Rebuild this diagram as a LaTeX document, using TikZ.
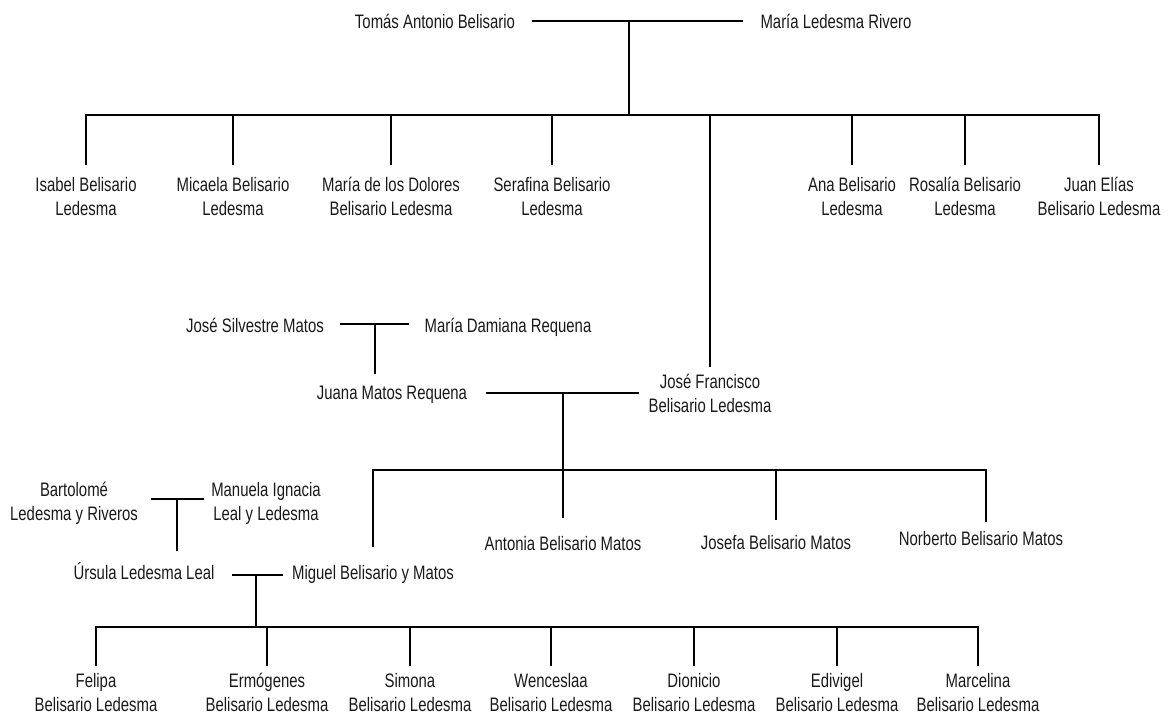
\documentclass[tikz,border=0pt]{standalone}
\usepackage{fontspec}
\newfontfamily\narrow[FakeStretch=0.765]{Liberation Sans}
\begin{document}
\begin{tikzpicture}[x=1pt,y=-1pt,line width=1.5pt,
  person/.style={font=\narrow\fontsize{19.5}{24}\selectfont, align=center, inner sep=0pt, anchor=base, text=black!90}]
\useasboundingbox (0,0) rectangle (1168,715);
% ---------- nodes (y = baseline of the last line) ----------
\node[person] (tomas)   at (435,28) {Tomás Antonio Belisario};
\node[person] (mariaLR) at (836,28) {María Ledesma Rivero};
\node[person] (isabel)   at (86,215)  {Isabel Belisario\\Ledesma};
\node[person] (micaela)  at (233,215) {Micaela Belisario\\Ledesma};
\node[person] (dolores)  at (391,215) {María de los Dolores\\Belisario Ledesma};
\node[person] (serafina) at (552,215) {Serafina Belisario\\Ledesma};
\node[person] (ana)      at (852,215) {Ana Belisario\\Ledesma};
\node[person] (rosalia)  at (965,215) {Rosalía Belisario\\Ledesma};
\node[person] (juanelias) at (1099,215) {Juan Elías\\Belisario Ledesma};
\node[person] (josefco)  at (710,412) {José Francisco\\Belisario Ledesma};
\node[person] (silvestre) at (255,332) {José Silvestre Matos};
\node[person] (damiana)   at (508,332) {María Damiana Requena};
\node[person] (juana)     at (392,399) {Juana Matos Requena};
\node[person] (bartolome) at (74,520)  {Bartolomé\\Ledesma y Riveros};
\node[person] (manuela)   at (266,520) {Manuela Ignacia\\Leal y Ledesma};
\node[person] (antonia)   at (563,550) {Antonia Belisario Matos};
\node[person] (josefa)    at (776,549) {Josefa Belisario Matos};
\node[person] (norberto)  at (981,545) {Norberto Belisario Matos};
\node[person] (ursula)    at (144,579) {Úrsula Ledesma Leal};
\node[person] (miguel)    at (373,579) {Miguel Belisario y Matos};
\node[person] (felipa)    at (96,711)  {Felipa\\Belisario Ledesma};
\node[person] (ermogenes) at (267,711) {Ermógenes\\Belisario Ledesma};
\node[person] (simona)    at (410,711) {Simona\\Belisario Ledesma};
\node[person] (wenceslaa) at (551,711) {Wenceslaa\\Belisario Ledesma};
\node[person] (dionicio)  at (694,711) {Dionicio\\Belisario Ledesma};
\node[person] (edivigel)  at (837,711) {Edivigel\\Belisario Ledesma};
\node[person] (marcelina) at (978,711) {Marcelina\\Belisario Ledesma};
% ---------- junction coordinates ----------
\coordinate (m1) at (629,21);
\coordinate (b1) at (629,115);
\coordinate (k1) at (0,165);
\coordinate (m2) at (375,324);
\coordinate (m3) at (563,393);
\coordinate (b2) at (563,470);
\coordinate (b2r) at (986,470);
\coordinate (k2) at (986,522);
\coordinate (m4) at (177,499);
\coordinate (m5) at (256,575);
\coordinate (b3) at (256,627);
\coordinate (k3) at (0,666);
% ---------- generation 1 ----------
\draw ([xshift=16pt]tomas.east |- m1) -- ([xshift=-17pt]mariaLR.west |- m1);
\draw (m1) -- (b1);
\draw (isabel |- k1) -- (isabel |- b1) -- (juanelias |- b1) -- (juanelias |- k1);
\foreach \n in {micaela,dolores,serafina,ana,rosalia} \draw (\n |- b1) -- (\n |- k1);
\draw (josefco |- b1) -- ([yshift=6pt]josefco.north);
% ---------- Matos ----------
\draw ([xshift=15pt]silvestre.east |- m2) -- ([xshift=-15pt]damiana.west |- m2);
\draw (m2) -- ([yshift=11pt]juana.north -| m2);
% ---------- Juana + Jose Francisco ----------
\draw ([xshift=18pt]juana.east |- m3) -- ([xshift=-9pt]josefco.west |- m3);
\draw (m3) -- ([yshift=17pt]antonia.north -| m3);
\draw ([yshift=17pt]miguel.north) -- (miguel |- b2) -- (b2r) -- (k2);
\draw (josefa |- b2) -- ([yshift=14pt]josefa.north);
% ---------- Bartolome + Manuela ----------
\draw ([xshift=12pt]bartolome.east |- m4) -- ([xshift=-7pt]manuela.west |- m4);
\draw (m4) -- ([yshift=10pt]ursula.north -| m4);
% ---------- Ursula + Miguel ----------
\draw ([xshift=17pt]ursula.east |- m5) -- ([xshift=-8pt]miguel.west |- m5);
\draw (m5) -- (b3);
\draw (felipa |- k3) -- (felipa |- b3) -- (marcelina |- b3) -- (marcelina |- k3);
\foreach \n in {ermogenes,simona,wenceslaa,dionicio,edivigel} \draw (\n |- b3) -- (\n |- k3);
\end{tikzpicture}
\end{document}
